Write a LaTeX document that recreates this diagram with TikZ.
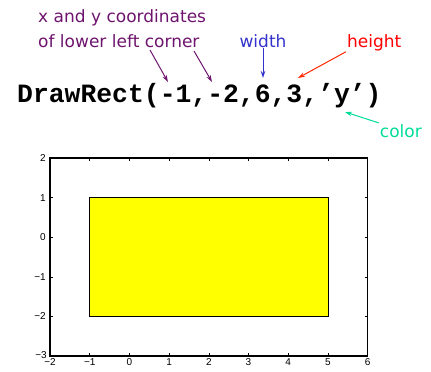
\documentclass[tikz,border=0pt]{standalone}
\usepackage{fontspec}
\setmainfont{DejaVu Sans}
\newfontfamily\codefont{Liberation Mono}
\newfontfamily\tickfont{Liberation Sans}
\usetikzlibrary{arrows.meta, positioning, calc}
\definecolor{argpurple}{RGB}{110,20,110}
\definecolor{argblue}{RGB}{51,51,204}
\definecolor{argred}{RGB}{255,40,0}
\definecolor{argteal}{RGB}{0,221,153}
\definecolor{rectyellow}{RGB}{255,255,0}
\tikzstyle{annot} = [inner sep=1pt, font=\fontsize{17}{20}\selectfont]
\tikzstyle{arrow} = [line width=1pt, -{Stealth[length=7pt, width=4.5pt]}]
\tikzstyle{tick} = [font=\tickfont\fontsize{10}{11}\selectfont, inner sep=1pt]

\begin{document}
\begin{tikzpicture}[x=1pt, y=-1pt]
        \useasboundingbox (0,0) rectangle (431,372);
        % call and its annotations
        \node[anchor=base west, inner sep=0pt, font=\codefont\bfseries\fontsize{26.4}{28}\selectfont] (call) at (17,102) {DrawRect(-1,-2,6,3,’y’)};
        \node[annot, anchor=base west, text=argpurple] (xy) at (37,23) {x and y coordinates};
        \node[annot, anchor=base west, text=argpurple] (corner) at (37,47) {of lower left corner};
        \node[annot, anchor=base, text=argblue] (width) at (263,47) {width};
        \node[annot, anchor=base west, text=red] (height) at (346,47) {height};
        \node[annot, anchor=base east, text=argteal] (colour) at (423,137) {color};

        \coordinate (xstart) at (150,50);
        \coordinate (ystart) at (194,51);
        \coordinate (xarg) at (168,82);
        \coordinate (yarg) at (212,82);
        \coordinate (warg) at (263,78);
        \coordinate (harg) at (298,78);
        \coordinate (carg) at (345,112);

        \draw[arrow, argpurple] (xstart) -- (xarg);
        \draw[arrow, argpurple] (ystart) -- (yarg);
        \draw[arrow, argblue] (width.south) -- (warg);
        \draw[arrow, argred] (height.south west) -- (harg);
        \draw[arrow, argteal] (colour.north west) -- (carg);

        % plot of the result
        \begin{scope}[shift={(129.4,237.2)}, x=39.7pt, y=39.6pt]
            \fill[rectyellow] (-1,-2) rectangle (5,1);
            \draw[line width=0.6pt] (-1,-2) rectangle (5,1);
            \foreach \t in {-1,...,5} {
                \draw[line width=0.5pt] (\t,-3) -- ++(0,3pt);
                \draw[line width=0.5pt] (\t,2) -- ++(0,-3pt);
            }
            \foreach \t in {-2,...,1} {
                \draw[line width=0.5pt] (-2,\t) -- ++(3pt,0);
                \draw[line width=0.5pt] (6,\t) -- ++(-3pt,0);
            }
            \draw[line width=1.3pt] (-2,-3) rectangle (6,2);
            \foreach \t/\s in {-2/−2,-1/−1,0/0,1/1,2/2,3/3,4/4,5/5,6/6}
                \node[tick, below=1pt] (xt\t) at (\t,-3) {\s};
            \foreach \t/\s in {-2/−2,-1/−1,0/0,1/1,2/2}
                \node[tick, left=3pt] (yt\t) at (-2,\t) {\s};
            \node[tick, anchor=south east] (yt-3) at ($(-2,-3)+(-2pt,-4pt)$) {−3};
        \end{scope}
    \end{tikzpicture}
\end{document}
